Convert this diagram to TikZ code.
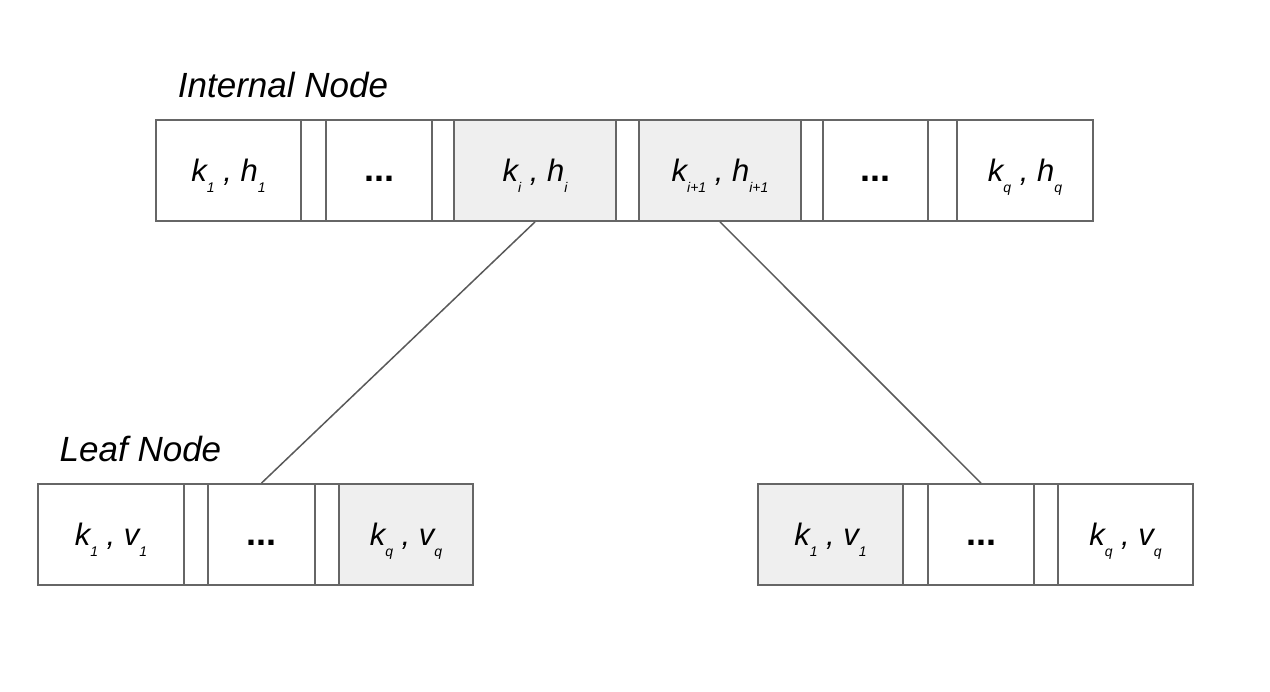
\documentclass[tikz,border=0pt]{standalone}
\usepackage{fontspec}
\setmainfont{Liberation Sans}
\definecolor{bordergray}{HTML}{666666}
\definecolor{linegray}{HTML}{595959}
\definecolor{cellfill}{HTML}{EFEFEF}
\newcommand{\subx}[1]{\smash{\raisebox{-11pt}{\fontsize{14}{14}\selectfont\itshape #1}}}
\newcommand{\dotsx}{{\fontsize{36}{36}\selectfont\upshape\bfseries ...}}
\tikzset{
  cell/.style={draw=bordergray, line width=1.8pt, fill=white, inner sep=0pt,
    minimum height=101pt, text height=22pt, text depth=0pt,
    font=\fontsize{31}{31}\selectfont\itshape},
  hcell/.style={cell, fill=cellfill},
  conn/.style={draw=linegray, line width=1.5pt},
  title/.style={font=\fontsize{35}{35}\selectfont\itshape, inner sep=0pt, anchor=base}
}
\begin{document}
\begin{tikzpicture}[x=1pt,y=-1pt]
\useasboundingbox (0,0) rectangle (1270,692);
% internal node
\node[title] (tin) at (283,98) {Internal Node};
\node[cell, minimum width=145pt] (c1) at (228.5,170.5) {k\subx{1} , h\subx{1}};
\node[cell, minimum width=25pt] (g1) at (313.5,170.5) {};
\node[cell, minimum width=106pt] (c2) at (379,170.5) {\dotsx};
\node[cell, minimum width=22pt] (g2) at (443,170.5) {};
\node[hcell, minimum width=162pt] (c3) at (535,170.5) {k\subx{i} , h\subx{i}};
\node[cell, minimum width=23pt] (g3) at (627.5,170.5) {};
\node[hcell, minimum width=162pt] (c4) at (720,170.5) {k\subx{i+1} , h\subx{i+1}};
\node[cell, minimum width=22pt] (g4) at (812,170.5) {};
\node[cell, minimum width=105pt] (c5) at (875.5,170.5) {\dotsx};
\node[cell, minimum width=29pt] (g5) at (942.5,170.5) {};
\node[cell, minimum width=136pt] (c6) at (1025,170.5) {k\subx{q} , h\subx{q}};
% left leaf
\node[title] (tleaf) at (140.5,462) {Leaf Node};
\node[cell, minimum width=146pt] (l1) at (111,534.5) {k\subx{1} , v\subx{1}};
\node[cell, minimum width=24pt] (lg1) at (196,534.5) {};
\node[cell, minimum width=107pt] (l2) at (261.5,534.5) {\dotsx};
\node[cell, minimum width=24pt] (lg2) at (327,534.5) {};
\node[hcell, minimum width=134pt] (l3) at (406,534.5) {k\subx{q} , v\subx{q}};
% right leaf
\node[hcell, minimum width=145pt] (r1) at (830.5,534.5) {k\subx{1} , v\subx{1}};
\node[cell, minimum width=25pt] (rg1) at (915.5,534.5) {};
\node[cell, minimum width=106pt] (r2) at (981,534.5) {\dotsx};
\node[cell, minimum width=24pt] (rg2) at (1046,534.5) {};
\node[cell, minimum width=135pt] (r3) at (1125.5,534.5) {k\subx{q} , v\subx{q}};
% connectors
\draw[conn] (c3.south) -- (l2.north);
\draw[conn] (c4.south) -- (r2.north);
\end{tikzpicture}
\end{document}
